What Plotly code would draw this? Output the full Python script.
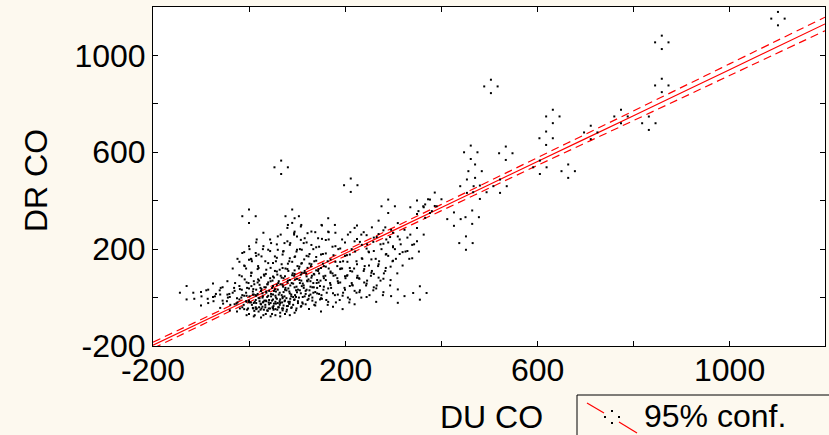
import plotly.graph_objects as go

# ---------------- data ----------------
DU_CO = [
    # left tail
    -130, -100, -85, -75, -60, -55, -45, -40,
    # dense core
    -30, -25, -20, -15, -10, -5, 0, 0, 5, 8, 10, 12, 15, 18, 20, 22, 25, 28, 30, 32,
    35, 38, 40, 42, 45, 48, 50, 52, 55, 58, 60, 62, 65, 68, 70, 72, 75, 78, 80, 82,
    85, 88, 90, 92, 95, 98, 100, 102, 105, 108, 110, 112, 115, 118, 120, 122, 125,
    128, 130, 132, 135, 138, 140, 142, 145, 148, 150,
    # core bottom
    -5, 10, 25, 35, 45, 55, 65, 75, 85, 95, 15, 50, 70,
    # upper part of cloud
    -20, -10, 0, 5, 15, 20, 30, 40, 50, 58, 60, 70, 80, 85, 95, 100, 108, 110, 120,
    130, 140, 150, 152, 160, 165, 170, 180, 190, 200, 210, 220, 225, 235, 245, 250,
    # right-middle part of cloud
    155, 160, 165, 170, 175, 180, 185, 190, 195, 200, 205, 210, 215, 220, 225, 230,
    240, 245, 255, 260, 265, 270, 280, 285, 295, 300,
    # sparse upper right of cloud
    260, 270, 280, 290, 300, 310, 320, 330, 340, 350,
    # isolated points
    0, 90, 95, 67, 212, 290, 350, 310, 356, 387, 377, 367, 427, 465, 452, 454, 481,
    523, 462, 471, 535, 504, 606, 619, 633, 665, 712, 775, 833, 860, 860, 1102,
]
DR_CO = [
    # left tail
    20, -5, 5, 30, -15, 15, 40, -25,
    # dense core
    0, -30, 20, 60, -20, 35, -40, 10, 75, -15, 40, -45, 5, 90, -30, 25, 55, -10, -45, 15,
    70, -25, 35, 0, 95, -40, 20, 55, -20, 80, 5, 40, -35, 110, 25, -5, 60, -30, 90, 10,
    45, -15, 120, 30, 70, -25, 50, 5, 100, -10, 75, 30, 130, 0, 60, 95, -20,
    40, 110, 15, 70, -5, 140, 45, 90, 20, -30,
    # core bottom
    -45, -50, -55, -40, -50, -45, -50, -40, -45, -35, -20, -15, -25,
    # upper part of cloud
    120, 160, 184, 130, 200, 150, 240, 170, 115, 192, 225, 150, 260, 190, 140, 225, 266, 170, 200,
    245, 180, 150, 270, 210, 300, 130, 240, 175, 200, 150, 260, 270, 190, 230, 160,
    # right-middle part of cloud
    60, 100, 10, 80, -10, 120, 40, 90, -20, 60, 120, 20, 80, 0, 110, 50,
    90, 30, 130, 70, 10, 110, 50, 150, 100, 180,
    # sparse upper right of cloud
    220, 290, 250, 200, 240, 280, 160, 220, 190, 260,
    # isolated points
    336, 336, 300, 538, 464, 377, 373, 6, 19, 406, 377, 357, 324, 332, 225, 460, 435,
    460, 600, 522, 596, 872, 538, 658, 748, 522, 682, 748, 720, 1054, 876, 1152,
]

# regression line and 95% confidence half-width, read at the x ticks
LINE_X = [-200, 0, 200, 400, 600, 800, 1000, 1200]
FIT_Y = [-197, -8, 182, 371, 561, 750, 940, 1130]
CI_HALF = [13, 11, 11, 13, 16, 20, 24, 28]

TICK_VALS = [-200, 0, 200, 400, 600, 800, 1000, 1200]
TICK_TEXT = ["-200", "", "200", "", "600", "", "1000", ""]

X_TITLE = "DU CO"
Y_TITLE = "DR CO"
LEGEND_TEXT = "95% conf."

# ---------------- layout geometry ----------------
W, H = 829, 435
ML, MR, MT, MB = 153, 4, 7, 89
PW, PH = W - ML - MR, H - MT - MB
RANGE = [-200, 1200]
DOT_OFF_PX = 6.7
dx = DOT_OFF_PX * (RANGE[1] - RANGE[0]) / PW
dy = DOT_OFF_PX * (RANGE[1] - RANGE[0]) / PH

FONT = "Liberation Sans, Arial, sans-serif"
FS = 32
BG = "#FDF9EF"

fig = go.Figure()

dot = dict(symbol="square", size=2, color="black", line=dict(width=0))
# four dots of each diamond-shaped marker
for xa, ya in [("x", "y2"), ("x", "y3"), ("x2", "y"), ("x3", "y")]:
    fig.add_trace(go.Scatter(x=DU_CO, y=DR_CO, mode="markers", marker=dot,
                             xaxis=xa, yaxis=ya, showlegend=False, hoverinfo="skip"))

upper = [f + c for f, c in zip(FIT_Y, CI_HALF)]
lower = [f - c for f, c in zip(FIT_Y, CI_HALF)]
fig.add_trace(go.Scatter(x=LINE_X, y=FIT_Y, mode="lines", line=dict(color="#FF0000", width=1.2),
                         showlegend=False, line_shape="spline"))
for band in (upper, lower):
    fig.add_trace(go.Scatter(x=LINE_X, y=band, mode="lines", line_shape="spline",
                             line=dict(color="#FF0000", width=1.2, dash="8px,5px"),
                             showlegend=False))

axis_common = dict(range=RANGE, showgrid=False, zeroline=False, showline=True,
                   linecolor="black", linewidth=1, mirror="ticks", ticks="inside",
                   ticklen=5, tickcolor="black", tickvals=TICK_VALS, ticktext=TICK_TEXT,
                   tickfont=dict(family=FONT, size=FS, color="black"))
hidden = dict(showgrid=False, zeroline=False, showline=False, showticklabels=False, ticks="")

fig.update_layout(
    width=W, height=H,
    margin=dict(l=ML, r=MR, t=MT, b=MB),
    paper_bgcolor=BG, plot_bgcolor="white",
    xaxis=dict(**axis_common),
    yaxis=dict(**axis_common),
    xaxis2=dict(overlaying="x", range=[RANGE[0] + dx, RANGE[1] + dx], **hidden),
    xaxis3=dict(overlaying="x", range=[RANGE[0] - dx, RANGE[1] - dx], **hidden),
    yaxis2=dict(overlaying="y", range=[RANGE[0] - dy, RANGE[1] - dy], **hidden),
    yaxis3=dict(overlaying="y", range=[RANGE[0] + dy, RANGE[1] + dy], **hidden),
    showlegend=False,
)
fig.update_xaxes(showticklabels=False, selector=dict(overlaying=None))
fig.layout.xaxis.showticklabels = False


def px2paper(px, py):
    return (px - ML) / PW, (H - MB - py) / PH


# x tick labels placed just under the axis
_, ty = px2paper(0, 370)
for v, t in zip(TICK_VALS, TICK_TEXT):
    if t:
        fig.add_annotation(text=t, x=v, xref="x", y=ty, yref="paper", showarrow=False,
                           font=dict(family=FONT, size=FS, color="black"),
                           xanchor="center", yanchor="middle")

# axis titles
ax, ay = px2paper(491, 417)
fig.add_annotation(text=X_TITLE, x=ax, y=ay, xref="paper", yref="paper", showarrow=False,
                   font=dict(family=FONT, size=FS, color="black"), xanchor="center", yanchor="middle")
ax, ay = px2paper(36, 181)
fig.add_annotation(text=Y_TITLE, x=ax, y=ay, xref="paper", yref="paper", showarrow=False,
                   textangle=-90, font=dict(family=FONT, size=FS, color="black"),
                   xanchor="center", yanchor="middle")

# legend box (drawn manually)
x0, y0 = px2paper(577, 395)
x1, y1 = px2paper(835, 445)
fig.add_shape(type="rect", xref="paper", yref="paper", x0=x0, y0=y0, x1=x1, y1=y1,
              line=dict(color="black", width=1), fillcolor=BG, layer="above")
for (a, b), (c, d) in [((587, 403), (604, 413)), ((619, 422), (637, 433))]:
    p0 = px2paper(a, b); p1 = px2paper(c, d)
    fig.add_shape(type="line", xref="paper", yref="paper", x0=p0[0], y0=p0[1], x1=p1[0], y1=p1[1],
                  line=dict(color="#FF0000", width=1.2), layer="above")
for cx, cy in [(605, 417), (612, 411), (612, 423), (619, 417)]:
    p0 = px2paper(cx - 1, cy - 1); p1 = px2paper(cx + 1, cy + 1)
    fig.add_shape(type="rect", xref="paper", yref="paper", x0=p0[0], y0=p0[1], x1=p1[0], y1=p1[1],
                  line=dict(width=0), fillcolor="black", layer="above")
lx, ly = px2paper(642, 416)
fig.add_annotation(text=LEGEND_TEXT, x=lx, y=ly, xref="paper", yref="paper", showarrow=False,
                   font=dict(family=FONT, size=FS, color="black"), xanchor="left", yanchor="middle")

fig.write_html("out.html", config={"displayModeBar": False},
               post_script="document.body.style.margin='0';document.body.style.overflow='hidden';")
